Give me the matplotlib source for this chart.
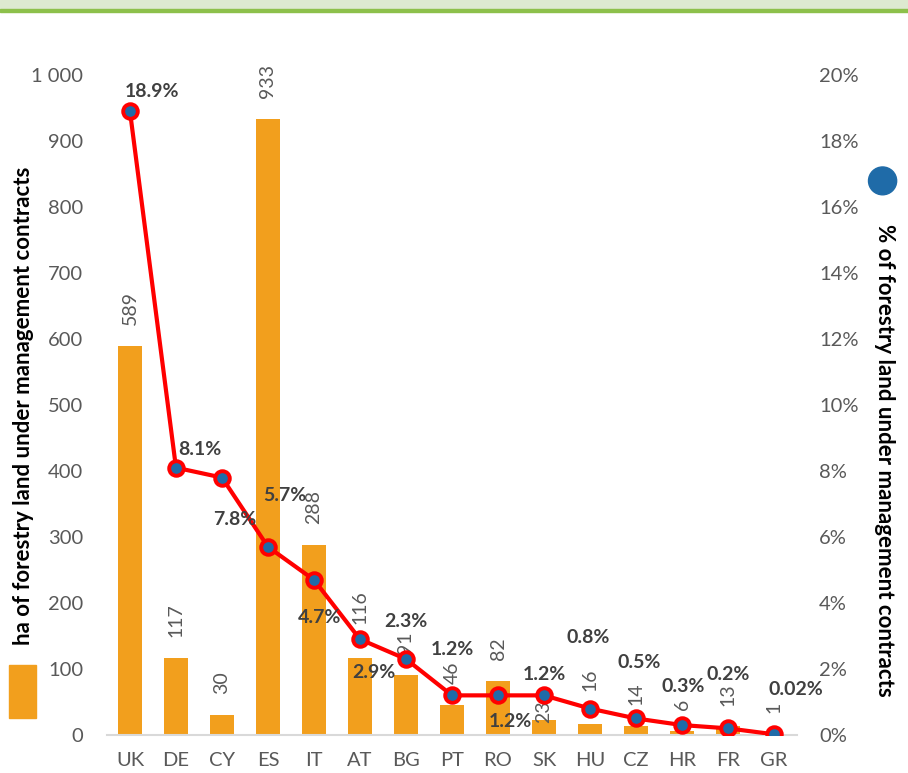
import matplotlib.pyplot as plt
from matplotlib.patches import Rectangle, Ellipse
from matplotlib.ticker import FuncFormatter

plt.rcParams['font.family'] = ['Lato', 'DejaVu Sans']

# data
countries = ["UK", "DE", "CY", "ES", "IT", "AT", "BG", "PT", "RO", "SK", "HU", "CZ", "HR", "FR", "GR"]
hectares = [589, 117, 30, 933, 288, 116, 91, 46, 82, 23, 16, 14, 6, 13, 1]
share_pct = [18.9, 8.1, 7.8, 5.7, 4.7, 2.9, 2.3, 1.2, 1.2, 1.2, 0.8, 0.5, 0.3, 0.2, 0.02]
share_text = ["18.9%", "8.1%", "7.8%", "5.7%", "4.7%", "2.9%", "2.3%", "1.2%", "1.2%", "1.2%",
              "0.8%", "0.5%", "0.3%", "0.2%", "0.02%"]

# label offsets (points) - excel put them all over the place
pct_offsets = [(16, 14), (17, 13), (9, -30), (12, 37), (4, -27), (10, -24), (0, 27), (0, 33),
               (9, -19), (0, 15), (-1, 51), (2, 40), (1, 28), (0, 39), (16, 32)]
bar_gaps = [15, 15, 15, 15, 15, 25, 15, 15, 15, -2, 24, 15, 15, 15, 15]

orange = "#F29F1D"
blue = "#1F6BA8"
grey = "#595959"
dark = "#404040"

fig = plt.figure(figsize=(9.08, 7.73), dpi=100)
ax = fig.add_axes([0.1178, 0.0492, 0.76, 0.8538])
ax2 = ax.twinx()

x = range(len(countries))
bars = ax.bar(x, hectares, width=0.54, color=orange, zorder=2)
for i, b in enumerate(bars):
    ax.annotate(str(hectares[i]), (b.get_x() + b.get_width() / 2, b.get_height()),
                xytext=(0, bar_gaps[i]), textcoords="offset points",
                rotation=90, ha="center", va="bottom", fontsize=14, color=grey)

ax2.plot(x, [v / 100 for v in share_pct], color="#FF0000", lw=3, marker="o",
         ms=10.5, mfc=blue, mec="#FF0000", mew=2.8, zorder=3)
for i, t in enumerate(share_text):
    ax2.annotate(t, (i, share_pct[i] / 100), xytext=pct_offsets[i], textcoords="offset points",
                 ha="center", va="center", fontsize=14, fontweight="bold", color=dark)

ax.set_xlim(-0.5, len(countries) - 0.5)
ax.set_ylim(0, 1000)
ax.set_yticks(range(0, 1001, 100))
ax.yaxis.set_major_formatter(FuncFormatter(lambda v, p: "1 000" if v == 1000 else "%d" % v))
ax2.set_ylim(0, 0.20)
ax2.set_yticks([i / 100 for i in range(0, 21, 2)])
ax2.yaxis.set_major_formatter(FuncFormatter(lambda v, p: "%d%%" % round(v * 100)))

ax.set_xticks(list(x))
ax.set_xticklabels(countries)
for a in (ax, ax2):
    for s in ("top", "left", "right"):
        a.spines[s].set_visible(False)
    a.tick_params(length=0, labelsize=14.5, labelcolor=grey)
ax2.spines["bottom"].set_visible(False)
ax.spines["bottom"].set_color("#D9D9D9")
ax.spines["bottom"].set_linewidth(1.5)
ax.tick_params(axis="y", pad=17)
ax.tick_params(axis="x", pad=12)
ax2.tick_params(axis="y", pad=16)

fig.text(0.026, 0.4754, "ha of forestry land under management contracts", rotation=90,
         ha="center", va="center", fontsize=16, fontweight="bold", color="black")
fig.text(0.974, 0.405, "% of forestry land under management contracts", rotation=-90,
         ha="center", va="center", fontsize=16, fontweight="bold", color="black")

# legend keys, drawn by hand like the original
fig.patches.append(Rectangle((0.010, 0.071), 0.030, 0.069, transform=fig.transFigure,
                             color=orange))
fig.patches.append(Ellipse((0.972, 0.766), 0.031, 0.036, transform=fig.transFigure,
                           color=blue))

# green banner at top
fig.patches.append(Rectangle((0, 0.988), 1, 0.012, transform=fig.transFigure, color="#DDE9D0"))
fig.patches.append(Rectangle((0, 0.984), 1, 0.004, transform=fig.transFigure, color="#8DC04B"))

fig.savefig("out.png", dpi=100)
